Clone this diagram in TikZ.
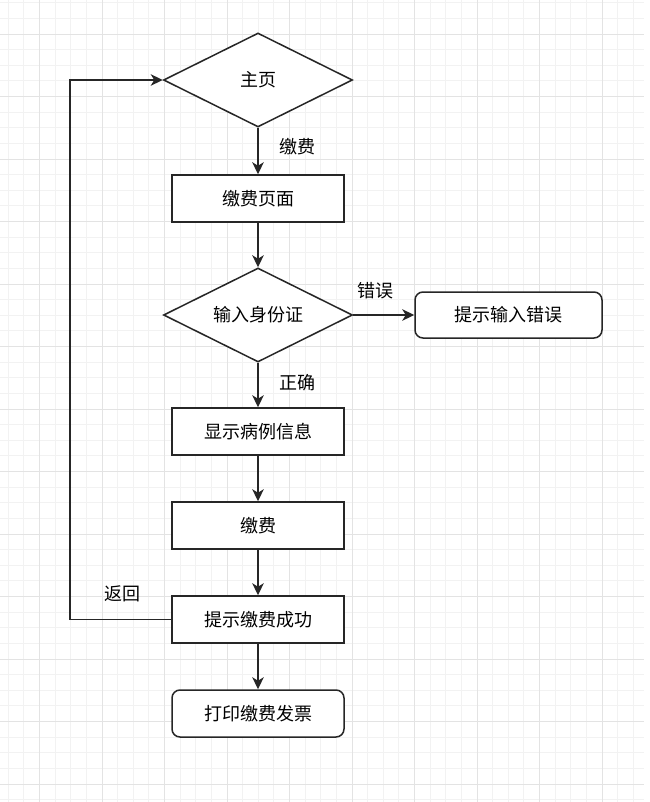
\documentclass[tikz,border=0pt]{standalone}
\usepackage{fontspec}
\setmainfont{Noto Sans CJK SC}
\usepackage{tikz}
\usetikzlibrary{shapes.geometric,arrows.meta}

\definecolor{minorgrid}{HTML}{F2F2F2}
\definecolor{majorgrid}{HTML}{E3E3E3}
\definecolor{edgegray}{HTML}{262626}

\begin{document}
\begin{tikzpicture}[x=1pt,y=-1pt,
                    >={Stealth[length=12pt,width=11.5pt,inset=3.5pt]},
                    line width=1.5pt,
                    every node/.style={font=\fontsize{18pt}{22pt}\selectfont},
                    decision/.style={diamond,draw=edgegray,fill=white,aspect=2,inner sep=0pt,
                                     minimum width=189pt,minimum height=94pt},
                    procbox/.style={rectangle,draw=edgegray,fill=white,
                                    minimum width=172pt,minimum height=47pt},
                    endbox/.style={procbox,rounded corners=8pt},
                    lbl/.style={inner sep=0pt}]

  % canvas and grid
  \useasboundingbox (0,0) rectangle (649,802);
  \fill[white] (0,0) rectangle (649,802);
  \foreach \i in {0,...,40}
    \draw[minorgrid,line width=0.8pt] (8.25+15.625*\i,0) -- (8.25+15.625*\i,802);
  \foreach \i in {0,...,51}
    \draw[minorgrid,line width=0.8pt] (0,2.75+15.625*\i) -- (644,2.75+15.625*\i);
  \foreach \i in {0,...,9}
    \draw[majorgrid,line width=0.9pt] (39.5+62.5*\i,0) -- (39.5+62.5*\i,802);
  \foreach \i in {0,...,12}
    \draw[majorgrid,line width=0.9pt] (0,34+62.5*\i) -- (644,34+62.5*\i);

  \node[decision] (home)    at (258,80)    {主页};
  \node[procbox]  (paypage) at (258,198.5) {缴费页面};
  \node[decision] (idcheck) at (258,315)   {输入身份证};
  \node[endbox,minimum width=187pt,minimum height=46pt]
                  (iderr)   at (508.5,315) {提示输入错误};
  \node[procbox]  (record)  at (258,431.5) {显示病例信息};
  \node[procbox]  (pay)     at (258,525.5) {缴费};
  \node[procbox]  (payok)   at (258,619.5) {提示缴费成功};
  \node[endbox]   (invoice) at (258,713.5) {打印缴费发票};

  \coordinate (back) at (70,80);

  % edge labels
  \node[lbl] (lpay)   at (297,147) {缴费};
  \node[lbl] (lwrong) at (375,291) {错误};
  \node[lbl] (lright) at (297,383) {正确};
  \node[lbl] (lback)  at (122,594) {返回};

  \draw[->,edgegray] (home)    -- (paypage);
  \draw[->,edgegray] (paypage) -- (idcheck);
  \draw[->,edgegray] (idcheck) -- (iderr);
  \draw[->,edgegray] (idcheck) -- (record);
  \draw[->,edgegray] (record)  -- (pay);
  \draw[->,edgegray] (pay)     -- (payok);
  \draw[->,edgegray] (payok)   -- (invoice);
  \draw[->,edgegray] (payok.west) -| (back) |- (home.west);
\end{tikzpicture}
\end{document}
